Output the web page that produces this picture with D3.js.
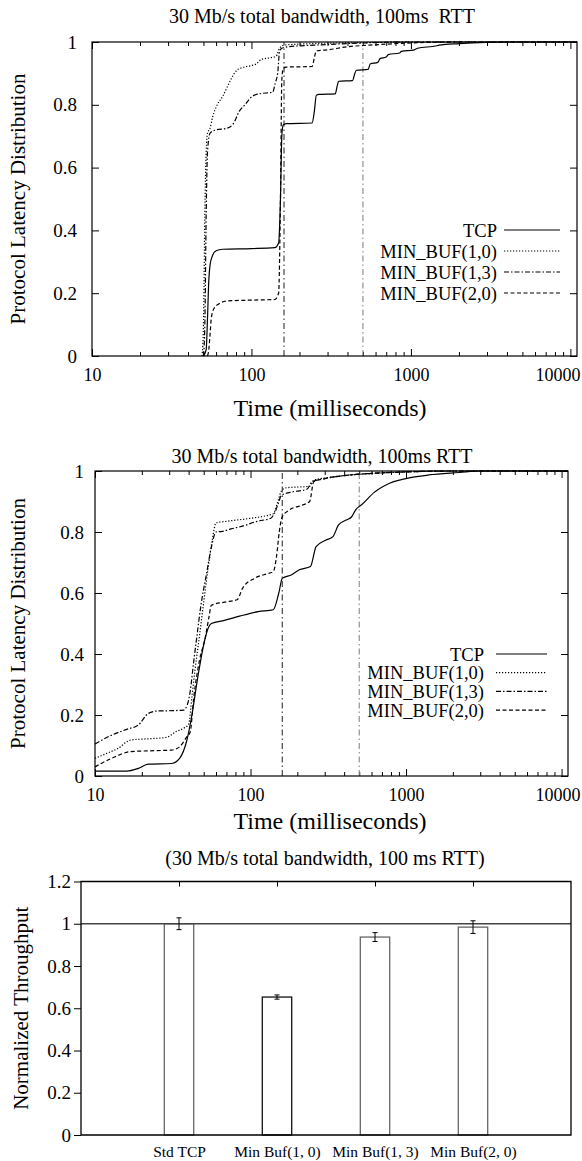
<!doctype html>
<html>
<head>
<meta charset="utf-8">
<title>Protocol latency and throughput</title>
<style>
  body { margin:0; background:#fff; }
  svg { display:block; font-family:"Liberation Serif","Times New Roman",serif; }
  .frame { fill:none; stroke:#000; stroke-width:1.2px; }
  .series { fill:none; stroke:#000; stroke-width:1.2px; }
</style>
<script src="https://d3js.org/d3.v7.min.js"></script>
</head>
<body>
<svg id="fig" width="582" height="1161"></svg>
<script>
// ---- data ----
var seriesNames = ["TCP", "MIN_BUF(1,0)", "MIN_BUF(1,3)", "MIN_BUF(2,0)"];
var xMajor = [10, 100, 1000, 10000];
var cdfYTicks = [0, 0.2, 0.4, 0.6, 0.8, 1];
var deadlines = [160, 500];

// top chart: [ms, cumulative fraction]
var top_tcp = [[50,0],[52,0.02],[53,0.12],[54,0.24],[55,0.29],[57,0.32],[60,0.335],[66,0.34],[100,0.342],[140,0.345],[148,0.36],[152,0.5],[155,0.7],[158,0.735],[165,0.74],[240,0.742],[248,0.78],[255,0.83],[265,0.833],[335,0.835],[345,0.86],[352,0.875],[430,0.877],[445,0.9],[455,0.91],[540,0.913],[555,0.93],[620,0.935],[640,0.947],[700,0.952],[720,0.96],[850,0.965],[870,0.97],[1050,0.975],[1100,0.98],[1450,0.988],[1500,0.99],[2000,0.995],[3000,0.999],[4000,1],[11000,1]];
var top_buf10 = [[49,0],[50,0.1],[51,0.45],[52,0.65],[53,0.71],[55,0.725],[57,0.76],[61,0.8],[66,0.827],[71,0.86],[75,0.885],[81,0.91],[86,0.917],[100,0.925],[107,0.93],[112,0.94],[116,0.945],[132,0.95],[143,0.955],[150,0.98],[160,0.99],[250,0.995],[500,0.998],[1000,1],[11000,1]];
var top_buf13 = [[50,0],[51,0.1],[52,0.45],[53,0.65],[55,0.71],[60,0.72],[70,0.725],[77,0.74],[84,0.78],[91,0.8],[100,0.825],[112,0.835],[136,0.84],[141,0.87],[146,0.9],[150,0.97],[155,0.98],[170,0.985],[250,0.99],[400,0.995],[1000,1],[11000,1]];
var top_buf20 = [[53,0],[54,0.02],[55,0.07],[56,0.12],[58,0.15],[62,0.165],[70,0.175],[100,0.178],[140,0.18],[148,0.2],[152,0.5],[155,0.88],[158,0.915],[165,0.92],[240,0.922],[248,0.95],[255,0.972],[300,0.975],[400,0.985],[550,0.99],[1000,0.997],[2000,1],[11000,1]];

// middle chart
var mid_tcp = [[10,0.016],[16,0.016],[19,0.025],[22,0.039],[31,0.041],[35,0.058],[39,0.118],[42,0.2],[46,0.33],[51,0.45],[54,0.49],[56,0.5],[68,0.51],[85,0.524],[112,0.539],[140,0.545],[152,0.6],[160,0.648],[184,0.66],[206,0.676],[243,0.687],[264,0.752],[304,0.773],[339,0.785],[368,0.823],[412,0.839],[447,0.85],[473,0.872],[520,0.89],[624,0.93],[784,0.96],[1090,0.979],[1400,0.987],[2200,0.995],[3000,1],[11000,1]];
var mid_buf10 = [[10,0.058],[12,0.075],[14,0.09],[17,0.118],[22,0.122],[29,0.127],[33,0.145],[37,0.156],[40,0.17],[42,0.26],[44,0.35],[47,0.46],[50,0.57],[54,0.7],[57,0.78],[60,0.83],[70,0.835],[100,0.845],[130,0.855],[140,0.86],[150,0.9],[158,0.935],[170,0.945],[240,0.95],[255,0.97],[300,0.977],[400,0.985],[600,0.992],[1000,0.997],[2000,1],[11000,1]];
var mid_buf13 = [[10,0.105],[12.8,0.134],[16,0.153],[19,0.167],[22,0.205],[25,0.213],[30,0.214],[37,0.216],[39,0.23],[41,0.28],[43,0.37],[45,0.45],[48,0.56],[52,0.66],[56,0.75],[60,0.8],[66,0.802],[75,0.81],[90,0.82],[110,0.835],[135,0.845],[142,0.86],[150,0.89],[158,0.92],[180,0.93],[230,0.94],[250,0.965],[300,0.975],[400,0.985],[600,0.992],[1000,0.997],[2000,1],[11000,1]];
var mid_buf20 = [[10,0.03],[12.8,0.058],[17,0.08],[24,0.083],[31,0.085],[35,0.096],[39,0.129],[41,0.145],[43,0.25],[47,0.38],[51,0.45],[54,0.52],[56,0.56],[68,0.57],[82,0.578],[89,0.616],[106,0.648],[132,0.665],[140,0.67],[147,0.72],[153,0.8],[160,0.85],[175,0.87],[220,0.89],[240,0.9],[255,0.965],[300,0.975],[400,0.985],[600,0.992],[1000,0.997],[2000,1],[11000,1]];

// bottom chart
var barNames = ["Std TCP", "Min Buf(1, 0)", "Min Buf(1, 3)", "Min Buf(2, 0)"];
var barValues = [1.0, 0.653, 0.937, 0.984];
var barErrors = [0.028, 0.01, 0.021, 0.03];
var barYTicks = [0, 0.2, 0.4, 0.6, 0.8, 1, 1.2];

// ---- drawing ----
var svg = d3.select("#fig");
var dashes = ["none", "1.2,1.8", "5,2,1.5,2", "4,2.5"];

function styleAxis(a, size) {
  a.attr("font-size", size).attr("font-family", null);
  a.select(".domain").remove();
}

function drawCdf(cfg) {
  var g = svg.append("g");
  var x = d3.scaleLog().domain([10, 11000]).range([cfg.left, cfg.right]);
  var y = d3.scaleLinear().domain([0, 1]).range([cfg.bottom, cfg.top]);
  var minor = [];
  xMajor.forEach(function(m) { for (var k = 2; k < 10; k++) if (m * k <= 11000) minor.push(m * k); });

  g.append("g").attr("transform", "translate(0," + cfg.bottom + ")")
    .call(d3.axisBottom(x).tickValues(xMajor).tickFormat(d3.format("d")).tickSize(-7).tickPadding(cfg.xPad))
    .call(styleAxis, 18)
    .call(function(a) {
      // keep the last label inside the page
      a.selectAll(".tick text").each(function(d) {
        var b = this.getBBox(), r = x(d) + b.x + b.width;
        if (r > 580) d3.select(this).attr("transform", "translate(" + (580 - r) + ",0)");
      });
    });
  g.append("g").attr("transform", "translate(0," + cfg.bottom + ")")
    .call(d3.axisBottom(x).tickValues(minor).tickFormat("").tickSize(-4)).call(styleAxis, 10);
  g.append("g").attr("transform", "translate(0," + cfg.top + ")")
    .call(d3.axisTop(x).tickValues(xMajor).tickFormat("").tickSize(-7)).call(styleAxis, 10);
  g.append("g").attr("transform", "translate(0," + cfg.top + ")")
    .call(d3.axisTop(x).tickValues(minor).tickFormat("").tickSize(-4)).call(styleAxis, 10);
  g.append("g").attr("transform", "translate(" + cfg.left + ",0)")
    .call(d3.axisLeft(y).tickValues(cdfYTicks).tickFormat(function(d) { return String(d); }).tickSize(-7).tickPadding(cfg.yPad))
    .call(styleAxis, 19);
  g.append("g").attr("transform", "translate(" + cfg.right + ",0)")
    .call(d3.axisRight(y).tickValues(cdfYTicks).tickFormat("").tickSize(-7)).call(styleAxis, 10);

  // deadline markers
  g.selectAll(".deadline").data(deadlines).enter().append("line")
    .attr("x1", function(d) { return x(d); }).attr("x2", function(d) { return x(d); })
    .attr("y1", y(0)).attr("y2", y(1))
    .attr("stroke", function(d, i) { return i === 0 ? "#333" : "#888"; })
    .attr("stroke-width", 1.1).attr("stroke-dasharray", "6,3,1.5,3");

  var line = d3.line().x(function(d) { return x(d[0]); }).y(function(d) { return y(d[1]); }).curve(d3.curveMonotoneX);
  cfg.series.forEach(function(s, i) {
    g.append("path").attr("class", "series").attr("d", line(s))
      .attr("stroke-dasharray", dashes[i] === "none" ? null : dashes[i]);
  });

  g.append("rect").attr("class", "frame")
    .attr("x", cfg.left).attr("y", cfg.top)
    .attr("width", cfg.right - cfg.left).attr("height", cfg.bottom - cfg.top);

  // legend
  seriesNames.forEach(function(n, i) {
    var yy = cfg.legY + i * cfg.legStep;
    g.append("text").attr("x", cfg.legText).attr("y", yy + 6.5)
      .attr("text-anchor", "end").attr("font-size", 18.5).text(n);
    g.append("line").attr("class", "series")
      .attr("x1", cfg.legLine[0]).attr("x2", cfg.legLine[1]).attr("y1", yy).attr("y2", yy)
      .attr("stroke-dasharray", dashes[i] === "none" ? null : dashes[i]);
  });

  g.append("text").attr("x", cfg.titleX).attr("y", cfg.titleY).attr("text-anchor", "middle")
    .attr("font-size", 20).attr("xml:space", "preserve").text(cfg.title);
  g.append("text").attr("x", cfg.titleX + 8).attr("y", cfg.xLabelY).attr("text-anchor", "middle")
    .attr("font-size", 24).text("Time (milliseconds)");
  g.append("text").attr("transform", "translate(" + cfg.yLabelX + "," + ((cfg.top + cfg.bottom) / 2) + ") rotate(-90)")
    .attr("text-anchor", "middle").attr("font-size", 21).text("Protocol Latency Distribution");
}

drawCdf({
  left: 92, right: 577, top: 42, bottom: 356, xPad: 12, yPad: 15,
  series: [top_tcp, top_buf10, top_buf13, top_buf20],
  legY: 230, legStep: 21, legText: 497, legLine: [504, 560],
  title: "30 Mb/s total bandwidth, 100ms  RTT", titleX: 322, titleY: 23,
  xLabelY: 416, yLabelX: 25
});

drawCdf({
  left: 95, right: 568, top: 471, bottom: 776, xPad: 12, yPad: 11,
  series: [mid_tcp, mid_buf10, mid_buf13, mid_buf20],
  legY: 654, legStep: 18.7, legText: 484, legLine: [496, 547],
  title: "30 Mb/s total bandwidth, 100ms RTT", titleX: 322, titleY: 463,
  xLabelY: 829, yLabelX: 25
});

// bar chart
(function() {
  var left = 81, right = 571, top = 881.5, bottom = 1135;
  var g = svg.append("g");
  var x = d3.scaleLinear().domain([0, barNames.length + 1]).range([left, right]);
  var y = d3.scaleLinear().domain([0, 1.2]).range([bottom, top]);
  var pos = barNames.map(function(d, i) { return i + 1; });
  var bw = x(0.3) - x(0);

  g.append("g").attr("transform", "translate(" + left + ",0)")
    .call(d3.axisLeft(y).tickValues(barYTicks).tickFormat(function(d) { return String(d); }).tickSize(7).tickPadding(3))
    .call(styleAxis, 19);
  g.append("g").attr("transform", "translate(0," + bottom + ")")
    .call(d3.axisBottom(x).tickValues(pos).tickFormat(function(d) { return barNames[d - 1]; }).tickSize(-5).tickPadding(11))
    .call(styleAxis, 15.5);
  g.append("g").attr("transform", "translate(0," + top + ")")
    .call(d3.axisTop(x).tickValues(pos).tickFormat("").tickSize(-5)).call(styleAxis, 10);

  g.selectAll(".bar").data(barValues).enter().append("rect")
    .attr("x", function(d, i) { return x(pos[i]) - bw / 2; })
    .attr("y", function(d) { return y(d); })
    .attr("width", bw).attr("height", function(d) { return y(0) - y(d); })
    .attr("fill", "#fff").attr("stroke", function(d, i) { return i === 1 ? "#111" : "#666"; }).attr("stroke-width", 1.3);

  g.append("line").attr("x1", left).attr("x2", right).attr("y1", y(1)).attr("y2", y(1))
    .attr("stroke", "#444").attr("stroke-width", 1.3);

  var eb = g.selectAll(".err").data(barValues).enter().append("g");
  eb.append("line").attr("x1", function(d, i) { return x(pos[i]); }).attr("x2", function(d, i) { return x(pos[i]); })
    .attr("y1", function(d, i) { return y(d - barErrors[i]); }).attr("y2", function(d, i) { return y(d + barErrors[i]); })
    .attr("stroke", "#000");
  [-1, 1].forEach(function(sgn) {
    eb.append("line").attr("x1", function(d, i) { return x(pos[i]) - 2.5; }).attr("x2", function(d, i) { return x(pos[i]) + 2.5; })
      .attr("y1", function(d, i) { return y(d + sgn * barErrors[i]); }).attr("y2", function(d, i) { return y(d + sgn * barErrors[i]); })
      .attr("stroke", "#000");
  });

  g.append("path").attr("d", "M" + left + "," + top + "H" + right + "V" + bottom + "H" + left + "Z")
    .attr("fill", "none").attr("stroke", "#000").attr("stroke-width", 1.3);

  g.append("text").attr("x", 325).attr("y", 865).attr("text-anchor", "middle").attr("font-size", 20)
    .text("(30 Mb/s total bandwidth, 100 ms RTT)");
  g.append("text").attr("transform", "translate(28," + ((top + bottom) / 2) + ") rotate(-90)")
    .attr("text-anchor", "middle").attr("font-size", 21).text("Normalized Throughput");
})();
</script>
</body>
</html>
